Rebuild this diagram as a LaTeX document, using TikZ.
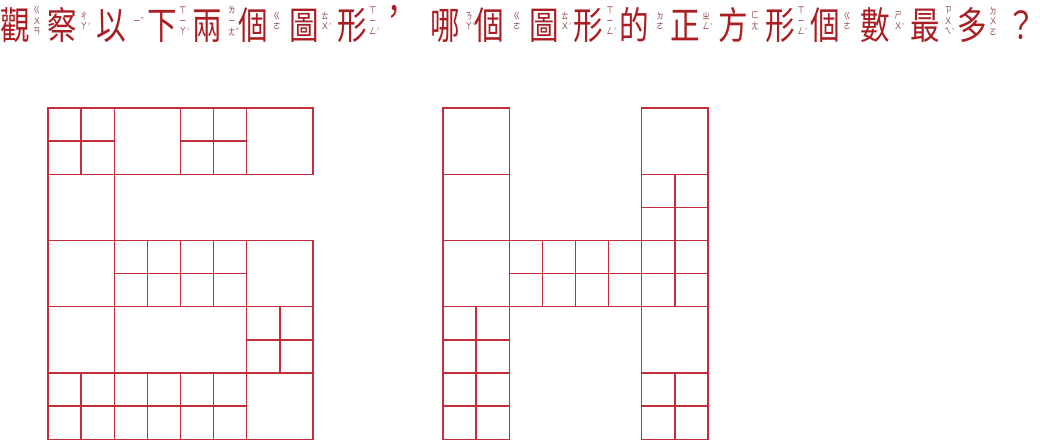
\documentclass[tikz,border=0pt]{standalone}
\usepackage{fontspec}
\newfontfamily\cjk[FakeStretch=0.78]{Noto Sans CJK TC}
\definecolor{titlecol}{RGB}{170,30,35}
\definecolor{zycol}{RGB}{140,55,55}
\definecolor{linecol}{RGB}{195,45,60}
\newcommand{\tn}[1]{\rlap{\hspace{0.3pt}\raisebox{1.5pt}{\fontsize{6.5}{6.5}\selectfont #1}}}
\newcommand{\zc}[5]{\node[chr] (c#1) at (#2,39) {#3};\node[zy] (z#1) at (#4,21) {#5};}
\newcommand{\bigsq}[3]{\draw[grid] ({#1+#2*66.25},{108+#3*66.25}) rectangle ++(66.25,66.25);}
\newcommand{\smallsq}[3]{\draw[grid] ({#1+#2*66.25},{108+#3*66.25}) rectangle ++(66.25,66.25)
  ({#1+#2*66.25+33.125},{108+#3*66.25}) -- ++(0,66.25)
  ({#1+#2*66.25},{108+#3*66.25+33.125}) -- ++(66.25,0);}
\tikzset{
  chr/.style={font=\cjk\fontsize{38}{40}\selectfont, text=titlecol, inner sep=0, anchor=base},
  zy/.style={font=\cjk\fontsize{9}{10.6}\selectfont, text=zycol, inner sep=0, align=center},
  grid/.style={draw=linecol, line width=1.3pt}
}
\begin{document}
\begin{tikzpicture}[x=1pt,y=-1pt]
\useasboundingbox[fill=white] (0,0) rectangle (1040,440);
% title
\zc{1}{15}{觀}{37}{ㄍ\\ㄨ\\ㄢ}
\zc{2}{62}{察}{84}{ㄔ\\ㄚ\tn{ˊ}}
\zc{3}{111}{以}{137}{ㄧ\tn{ˇ}}
\zc{4}{162}{下}{183}{ㄒ\\ㄧ\\ㄚ\tn{ˋ}}
\zc{5}{207}{兩}{232}{ㄌ\\ㄧ\\ㄤ\tn{ˇ}}
\zc{6}{253}{個}{277}{ㄍ\\ㄜ}
\zc{7}{304}{圖}{325}{ㄊ\\ㄨ\tn{ˊ}}
\zc{8}{352}{形}{373}{ㄒ\\ㄧ\\ㄥ\tn{ˊ}}
\node[chr] (comma) at (394,39) {\raisebox{14pt}[0pt][0pt]{，}};
\zc{9}{445}{哪}{469}{ㄋ\\ㄚ\tn{ˇ}}
\zc{10}{489}{個}{517}{ㄍ\\ㄜ}
\zc{11}{544}{圖}{565}{ㄊ\\ㄨ\tn{ˊ}}
\zc{12}{588}{形}{610}{ㄒ\\ㄧ\\ㄥ\tn{ˊ}}
\zc{13}{634}{的}{660}{ㄉ\\ㄜ}
\zc{14}{685}{正}{706}{ㄓ\\ㄥ\tn{ˋ}}
\zc{15}{733}{方}{755}{ㄈ\\ㄤ}
\zc{16}{780}{形}{801}{ㄒ\\ㄧ\\ㄥ\tn{ˊ}}
\zc{17}{825}{個}{847}{ㄍ\\ㄜ}
\zc{18}{875}{數}{898}{ㄕ\\ㄨ\tn{ˋ}}
\zc{19}{925}{最}{948}{ㄗ\\ㄨ\\ㄟ\tn{ˋ}}
\zc{20}{972}{多}{993}{ㄉ\\ㄨ\\ㄛ}
\node[chr] (qm) at (1021,39) {？};
% left figure "6"
\smallsq{48}{0}{0}\bigsq{48}{1}{0}\smallsq{48}{2}{0}\bigsq{48}{3}{0}
\bigsq{48}{0}{1}
\bigsq{48}{0}{2}\smallsq{48}{1}{2}\smallsq{48}{2}{2}\bigsq{48}{3}{2}
\bigsq{48}{0}{3}\smallsq{48}{3}{3}
\smallsq{48}{0}{4}\smallsq{48}{1}{4}\smallsq{48}{2}{4}\bigsq{48}{3}{4}
% right figure "H"
\bigsq{443}{0}{0}\bigsq{443}{3}{0}
\bigsq{443}{0}{1}\smallsq{443}{3}{1}
\bigsq{443}{0}{2}\smallsq{443}{1}{2}\smallsq{443}{2}{2}\smallsq{443}{3}{2}
\smallsq{443}{0}{3}\bigsq{443}{3}{3}
\smallsq{443}{0}{4}\smallsq{443}{3}{4}
\end{tikzpicture}
\end{document}
